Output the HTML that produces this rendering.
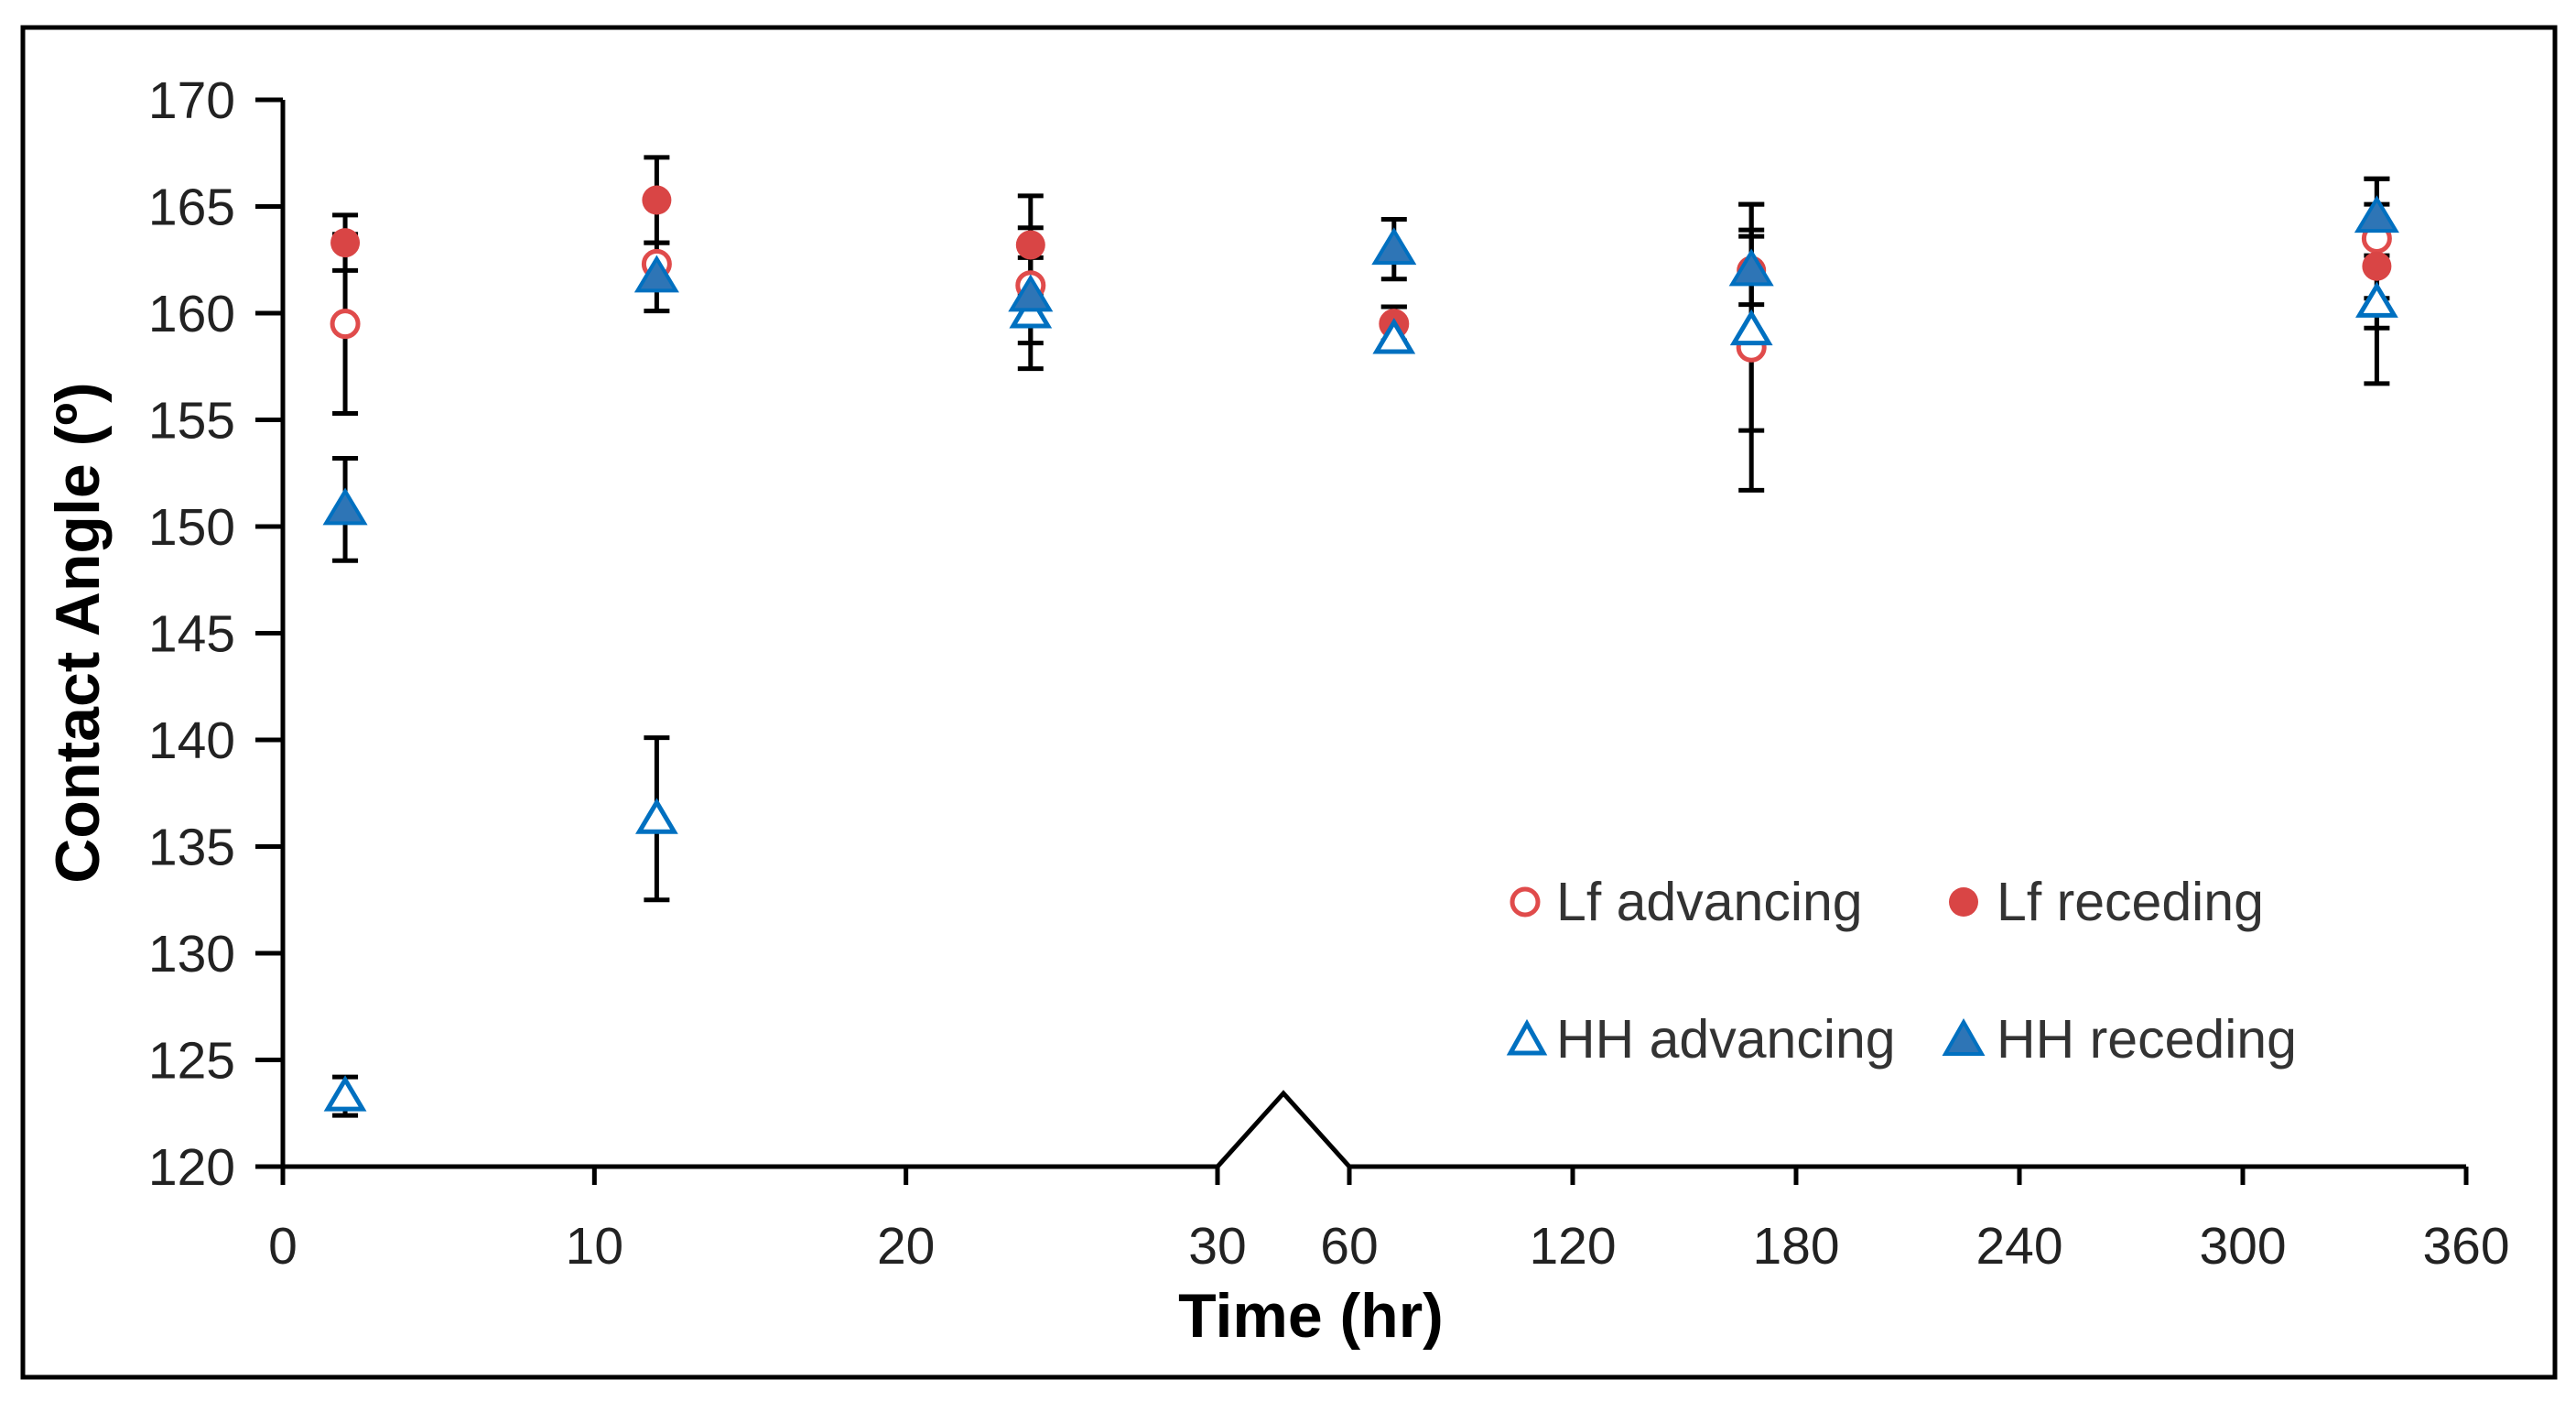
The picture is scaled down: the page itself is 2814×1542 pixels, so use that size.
<!DOCTYPE html>
<html><head><meta charset="utf-8"><style>
html,body{margin:0;padding:0;background:#fff;width:2814px;height:1542px;overflow:hidden}
svg{display:block;font-family:"Liberation Sans",sans-serif}
</style></head><body>
<svg id="chart" width="2814" height="1542" viewBox="0 0 2814 1542">
<rect x="25" y="30" width="2766" height="1474" fill="#fff" stroke="#000" stroke-width="5"/>
<g id="axes"></g>
<g id="marks"></g>
<text x="1432" y="1460" text-anchor="middle" font-size="68" font-weight="bold">Time (hr)</text>
<text transform="translate(108,691) rotate(-90)" text-anchor="middle" font-size="68" font-weight="bold">Contact Angle (º)</text>
<g fill="#333">
<g><circle cx="1666" cy="985" r="14" fill="#fff" stroke="#E04B4B" stroke-width="5"/><text x="1700" y="1005" font-size="59">Lf advancing</text></g>
<g><circle cx="2145" cy="985" r="16" fill="#D94545"/><text x="2181" y="1005" font-size="59">Lf receding</text></g>
<g><polygon points="1668,1118 1686,1150 1650,1150" fill="#fff" stroke="#0070C0" stroke-width="5"/><text x="1700" y="1155" font-size="59">HH advancing</text></g>
<g><polygon points="2145,1116 2165,1151 2125,1151" fill="#2E75B6" stroke="#0070C0" stroke-width="4"/><text x="2181" y="1155" font-size="59">HH receding</text></g>
</g>
</svg>
<script>
const times = [2, 12, 24, 72, 168, 336];
const lfAdv = [159.5, 162.3, 161.3, 159.5, 158.4, 163.5];
const lfAdvErr = [4.2, 0, 2.7, 0.8, 6.7, 2.8];
const lfRec = [163.3, 165.3, 163.2, 159.5, 162.0, 162.2];
const lfRecErr = [1.3, 2.0, 2.3, 0.8, 1.6, 2.9];
const hhAdv = [123.3, 136.3, 160.0, 158.8, 159.2, 160.5];
const hhAdvErr = [0.9, 3.8, 2.6, 0, 4.7, 3.8];
const hhRec = [150.8, 161.7, 160.8, 163.0, 162.0, 164.5];
const hhRecErr = [2.4, 1.6, 0, 1.4, 3.1, 1.8];
const yTicks = [120,125,130,135,140,145,150,155,160,165,170];
const xTicksA = [0,10,20,30];
const xTicksB = [60,120,180,240,300,360];

const NS='http://www.w3.org/2000/svg';
function mk(tag, attrs, parent){const e=document.createElementNS(NS,tag);for(const k in attrs)e.setAttribute(k,attrs[k]);parent.appendChild(e);return e;}
const X0=309, XA=1330, XB0=1474, XB1=2694, YT=109, YB=1274;
function xs(t){return t<=30 ? X0+(XA-X0)*t/30 : XB0+(XB1-XB0)*(t-60)/300;}
function ys(v){return YB-(YB-YT)*(v-120)/50;}
const axes=document.getElementById('axes'), marks=document.getElementById('marks');
let l=mk('line',{x1:X0,y1:YT,x2:X0,y2:YB,stroke:'#000','stroke-width':5},axes);


l=mk('path',{d:`M${X0},${YB} L${XA},${YB} L${(XA+XB0)/2},1194 L${XB0},${YB} L${XB1},${YB}`,fill:'none',stroke:'#000','stroke-width':5},axes);


yTicks.forEach(v=>{const y=ys(v);
 const t=mk('line',{x1:X0-30,y1:y,x2:X0,y2:y,stroke:'#000','stroke-width':5},axes);
 
 
 const tx=mk('text',{x:257,y:y+20,'text-anchor':'end','font-size':57,fill:'#222'},axes);tx.textContent=v;
 
 });
xTicksA.concat(xTicksB).forEach(v=>{const x=xs(v);
 const t=mk('line',{x1:x,y1:YB,x2:x,y2:YB+20,stroke:'#000','stroke-width':5},axes);
 
 
 const tx=mk('text',{x:x,y:1380,'text-anchor':'middle','font-size':57,fill:'#222'},axes);tx.textContent=v;
 
 });
function errbar(x,v,e){if(!e)return;const y1=ys(v+e),y2=ys(v-e);
 const g=mk('g',{stroke:'#000','stroke-width':5},marks);
 
 
 mk('line',{x1:x,y1:y1,x2:x,y2:y2},g);mk('line',{x1:x-14,y1:y1,x2:x+14,y2:y1},g);mk('line',{x1:x-14,y1:y2,x2:x+14,y2:y2},g);}
times.forEach((t,i)=>{const x=xs(t);
 errbar(x,lfAdv[i],lfAdvErr[i]);errbar(x,lfRec[i],lfRecErr[i]);errbar(x,hhAdv[i],hhAdvErr[i]);errbar(x,hhRec[i],hhRecErr[i]);});
times.forEach((t,i)=>{const x=xs(t);
 let m=mk('circle',{cx:x,cy:ys(lfAdv[i]),r:14,fill:'#fff',stroke:'#E04B4B','stroke-width':5},marks);
 
 
 m=mk('circle',{cx:x,cy:ys(lfRec[i]),r:16,fill:'#D94545'},marks);
 
 
 let y=ys(hhAdv[i]);
 m=mk('polygon',{points:`${x},${y-18} ${x+19},${y+14} ${x-19},${y+14}`,fill:'#fff',stroke:'#0070C0','stroke-width':5},marks);
 
 
 y=ys(hhRec[i]);
 m=mk('polygon',{points:`${x},${y-20} ${x+21},${y+15} ${x-21},${y+15}`,fill:'#2E75B6',stroke:'#0070C0','stroke-width':4},marks);
 
 });
</script>
</body></html>
